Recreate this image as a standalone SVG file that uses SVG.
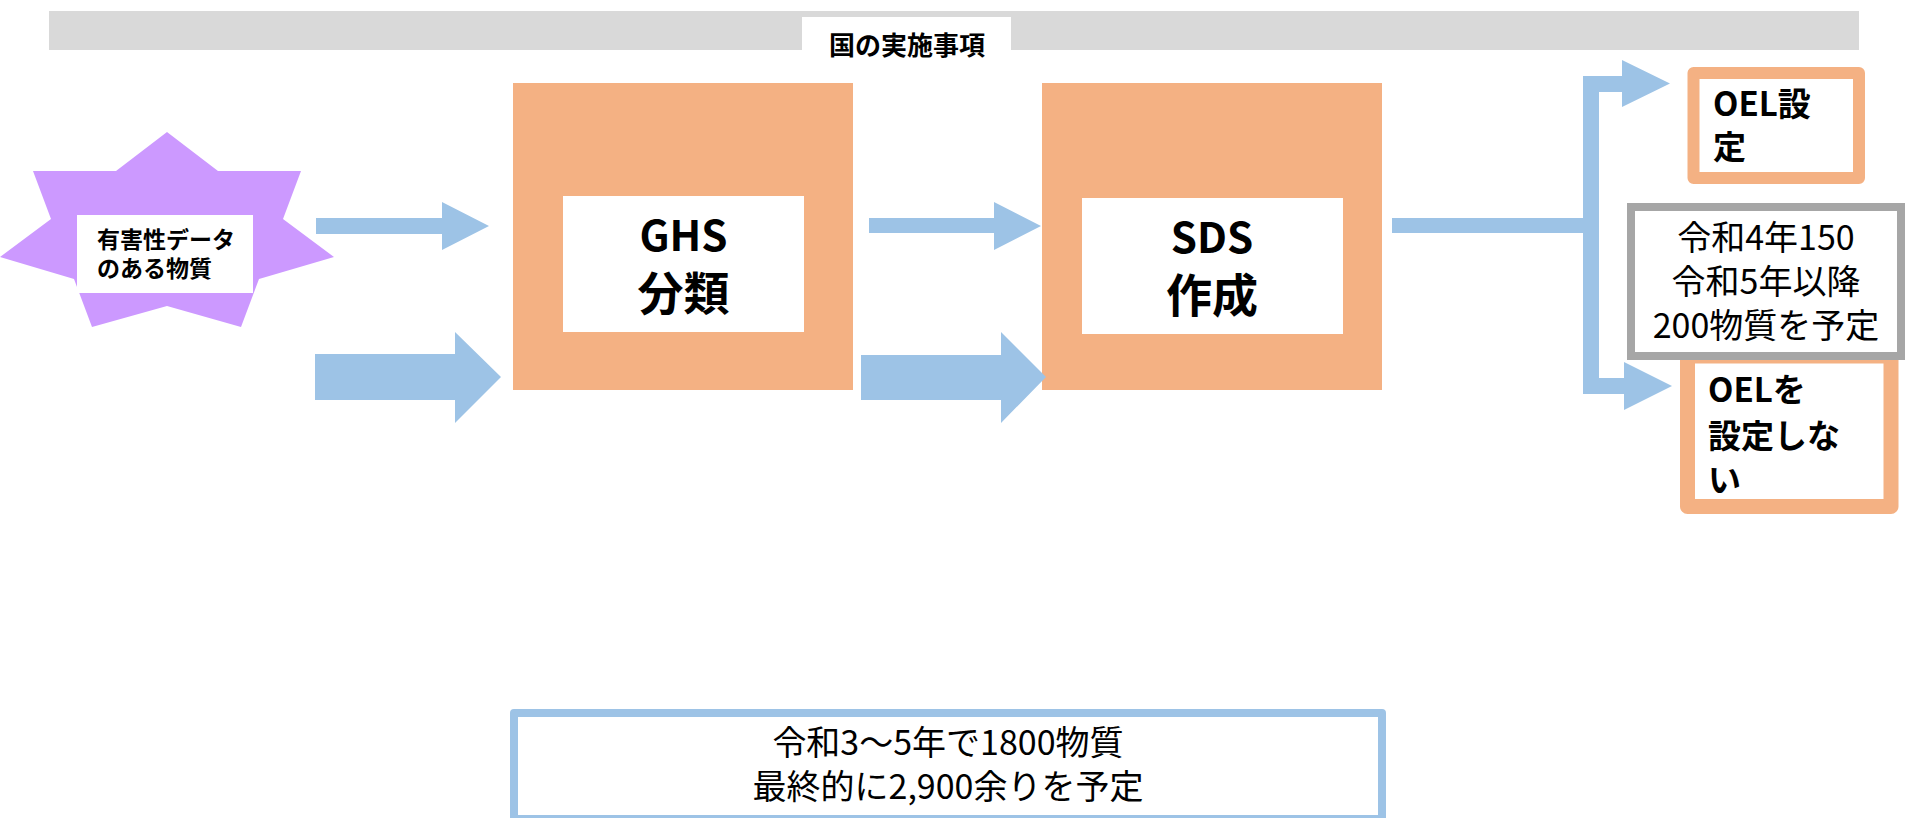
<svg xmlns="http://www.w3.org/2000/svg" width="1905" height="818" viewBox="0 0 1905 818">
<style>
  text { font-family: "Noto Sans CJK JP", "Noto Sans", sans-serif; fill: #000; }
  .b { font-weight: bold; }
  .mid { text-anchor: middle; }
  .orange { fill: #f4b183; }
  .white { fill: #ffffff; }
  .conn { fill: #9dc3e6; stroke: none; }
  .obox { fill: #ffffff; stroke: #f4b183; stroke-linejoin: round; }
</style>

<g id="header">
  <rect x="49" y="11" width="1810" height="39" fill="#d9d9d9"/>
  <rect x="802" y="17" width="209" height="41" fill="#ffffff"/>
  <text class="b mid" x="907" y="55" font-size="26">国の実施事項</text>
</g>

<g id="substance">
  <polygon fill="#cc99ff" points="167,132 218,171 301,171 283,219 334,257 259,279 241,327 167,306 92,327 74,279 0,257 51,219 33,171 116,171"/>
  <rect x="77" y="215" width="176" height="78" fill="#ffffff"/>
  <text class="b" font-size="23"><tspan x="97" y="248">有害性データ</tspan><tspan x="97" y="277">のある物質</tspan></text>
</g>

<g id="ghs">
  <rect class="orange" x="513" y="83" width="340" height="307"/>
  <rect class="white" x="563" y="196" width="241" height="136"/>
  <text class="b mid"><tspan x="683.5" y="251" font-size="42">GHS</tspan><tspan x="683.5" y="310" font-size="46">分類</tspan></text>
</g>

<g id="sds">
  <rect class="orange" x="1042" y="83" width="340" height="307"/>
  <rect class="white" x="1082" y="198" width="261" height="136"/>
  <text class="b mid"><tspan x="1212" y="253" font-size="42">SDS</tspan><tspan x="1212" y="312" font-size="46">作成</tspan></text>
</g>

<g id="oel-set">
  <rect class="obox" x="1693.5" y="73" width="165.5" height="105" stroke-width="12"/>
  <text class="b" font-size="33"><tspan x="1713" y="116">OEL設</tspan><tspan x="1713" y="159">定</tspan></text>
</g>

<g id="oel-notset">
  <rect class="obox" x="1687.5" y="356" width="203.5" height="150.5" stroke-width="15"/>
  <text class="b" font-size="33"><tspan x="1708" y="402">OELを</tspan><tspan x="1708" y="448">設定しな</tspan><tspan x="1708" y="492">い</tspan></text>
</g>

<g id="oel-schedule">
  <rect x="1631" y="207" width="270" height="149" fill="#ffffff" stroke="#a6a6a6" stroke-width="8"/>
  <text class="mid" font-size="34"><tspan x="1766" y="250">令和4年150</tspan><tspan x="1766" y="294">令和5年以降</tspan><tspan x="1766" y="338">200物質を予定</tspan></text>
</g>

<g id="sds-plan">
  <rect x="514" y="713" width="868" height="106" fill="#ffffff" stroke="#9dc3e6" stroke-width="8" stroke-linejoin="round"/>
  <text class="mid" font-size="34"><tspan x="948" y="755">令和3～5年で1800物質</tspan><tspan x="948" y="799">最終的に2,900余りを予定</tspan></text>
</g>

<g id="connectors">
  <polygon class="conn" points="316,218 442,218 442,202 489,226 442,250 442,234 316,234"/>
  <polygon class="conn" points="315,354 455,354 455,332 501,377 455,423 455,400 315,400"/>
  <polygon class="conn" points="869,218 994,218 994,202 1041,226 994,250 994,233 869,233"/>
  <polygon class="conn" points="861,355 1001,355 1001,332 1046,377 1001,423 1001,400 861,400"/>
  <path class="conn" d="M1392,218 H1583 V76 H1622 V60 L1670,83.5 L1622,107 V92 H1599 V378 H1624 V362 L1672,386 L1624,410 V394 H1583 V233 H1392 Z"/>
</g>
</svg>
